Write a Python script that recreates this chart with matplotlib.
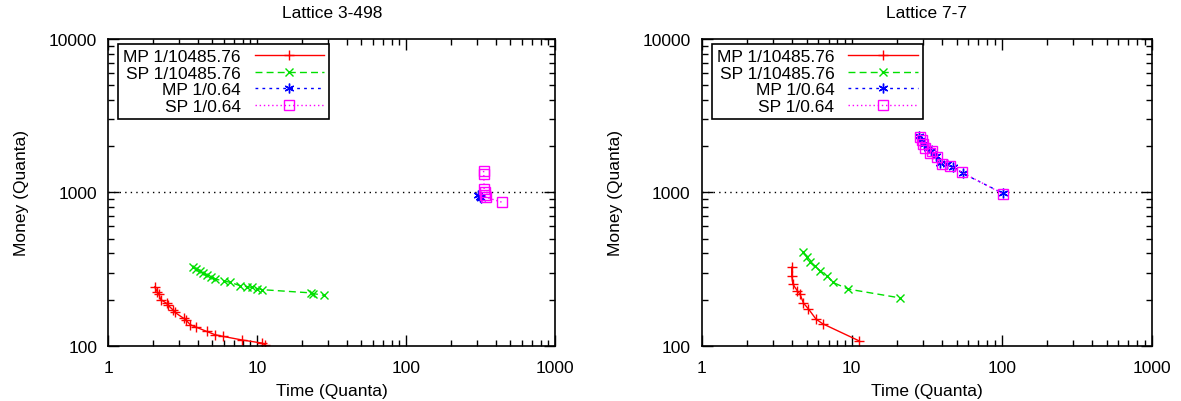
import matplotlib
matplotlib.use("Agg")
import matplotlib.pyplot as plt
from matplotlib.ticker import LogLocator, NullFormatter, FixedLocator, FixedFormatter

plt.rcParams['font.family'] = ['Liberation Sans', 'DejaVu Sans']

# ---- data: Lattice 3-498 (left) ----
l_mp_small_x = [2.05, 2.13, 2.18, 2.25, 2.46, 2.5, 2.72, 2.8, 3.2, 3.3, 3.55, 3.9, 4.57, 5.2, 5.9, 7.9, 10.8, 11.3]
l_mp_small_y = [242, 225, 218, 200, 189, 185, 171, 165, 151, 148, 137, 132, 124, 118, 115, 109, 104, 101]
l_sp_small_x = [3.73, 3.9, 4.14, 4.35, 4.6, 4.9, 5.23, 6.0, 6.59, 7.69, 8.5, 9.21, 10.0, 10.8, 23.0, 23.5, 28.2]
l_sp_small_y = [327, 318, 308, 298, 289, 280, 272, 264, 259, 246, 243, 240, 236, 232, 221, 219, 213]
l_mp_big_x = [305, 310, 318]
l_mp_big_y = [955, 935, 925]
l_sp_big_x = [330, 331, 333, 335, 338, 341, 441]
l_sp_big_y = [1380, 1320, 1050, 1000, 960, 930, 861]

# ---- data: Lattice 7-7 (right) ----
r_mp_small_x = [3.98, 3.98, 4.05, 4.34, 4.52, 4.76, 5.14, 5.78, 6.41, 11.1]
r_mp_small_y = [325, 286, 252, 228, 217, 190, 174, 149, 139, 108]
r_sp_small_x = [4.76, 5.0, 5.27, 5.7, 6.15, 6.87, 7.47, 9.49, 21.0]
r_sp_small_y = [406, 380, 350, 330, 308, 286, 259, 234, 205]
r_mp_big_x = [28.0, 29.0, 30.5, 32.0, 34.0, 36.5, 39.0, 43.0, 47.0, 55.0, 102]
r_mp_big_y = [2330, 2200, 2080, 1950, 1850, 1720, 1560, 1520, 1470, 1330, 985]
r_sp_big_x = [28.5, 29.2, 29.9, 31.0, 33.0, 34.1, 36.9, 39.8, 45.2, 54.1, 102]
r_sp_big_y = [2285, 2180, 2060, 1950, 1800, 1870, 1695, 1530, 1490, 1352, 977]

labels = ['MP 1/10485.76', 'SP 1/10485.76', 'MP 1/0.64', 'SP 1/0.64']
titles = ['Lattice 3-498', 'Lattice 7-7']

fig = plt.figure(figsize=(11.81, 4.02), dpi=100)
ax1 = fig.add_axes([0.0917, 0.1375, 0.3785, 0.763])
ax2 = fig.add_axes([0.5942, 0.1375, 0.381, 0.763])

panels = [
    (ax1, l_mp_small_x, l_mp_small_y, l_sp_small_x, l_sp_small_y, l_mp_big_x, l_mp_big_y, l_sp_big_x, l_sp_big_y),
    (ax2, r_mp_small_x, r_mp_small_y, r_sp_small_x, r_sp_small_y, r_mp_big_x, r_mp_big_y, r_sp_big_x, r_sp_big_y),
]

for i, (ax, mx, my, sx, sy, bx, by, qx, qy) in enumerate(panels):
    ax.set_xscale('log')
    ax.set_yscale('log')
    ax.set_xlim(1, 1000)
    ax.set_ylim(100, 10000)
    ax.axhline(1000, color='black', linestyle=(0, (1, 3)), linewidth=1, zorder=1)
    ax.plot(mx, my, color='#ff0000', linestyle='-', linewidth=1, marker='+', markersize=7,
            markeredgewidth=1, label=labels[0])
    ax.plot(sx, sy, color='#00e000', linestyle=(0, (5, 3)), linewidth=1, marker='x', markersize=6,
            markeredgewidth=1, label=labels[1])
    ax.plot(bx, by, color='#0000ff', linestyle=(0, (2, 3)), linewidth=1, marker=(6, 2, 0), markersize=7,
            markeredgewidth=1, label=labels[2])
    ax.plot(qx, qy, color='#ff00ff', linestyle=(0, (1, 2)), linewidth=1, marker='s', markersize=7,
            markerfacecolor='none', markeredgewidth=1, label=labels[3])

    ax.xaxis.set_major_locator(FixedLocator([1, 10, 100, 1000]))
    ax.xaxis.set_major_formatter(FixedFormatter(['1', '10', '100', '1000']))
    ax.yaxis.set_major_locator(FixedLocator([100, 1000, 10000]))
    ax.yaxis.set_major_formatter(FixedFormatter(['100', '1000', '10000']))
    ax.xaxis.set_minor_locator(LogLocator(base=10, subs=range(2, 10)))
    ax.yaxis.set_minor_locator(LogLocator(base=10, subs=range(2, 10)))
    ax.xaxis.set_minor_formatter(NullFormatter())
    ax.yaxis.set_minor_formatter(NullFormatter())
    ax.tick_params(which='both', direction='in', top=True, right=True, labelsize=12.5, width=1)
    ax.tick_params(which='major', length=8)
    ax.tick_params(axis='x', which='major', pad=10)
    ax.tick_params(axis='y', which='major', pad=8)
    ax.tick_params(which='minor', length=4)
    for sp in ax.spines.values():
        sp.set_linewidth(1.2)

    ax.set_title(titles[i], fontsize=12.5, pad=16)
    ax.set_xlabel('Time (Quanta)', fontsize=12.5, labelpad=6)
    ax.set_ylabel('Money (Quanta)', fontsize=12.5, labelpad=14)

    # gnuplot style key: text right-aligned, sample on the right
    leg = ax.legend(loc='upper left', bbox_to_anchor=(0.022, 0.984), markerfirst=False,
                    fontsize=12.5, handlelength=4.0, handletextpad=0.8, labelspacing=0.08,
                    borderpad=0.3, borderaxespad=0.0, fancybox=False, framealpha=1,
                    edgecolor='black')
    leg.get_frame().set_linewidth(1.2)

fig.savefig('out.png', dpi=100)
